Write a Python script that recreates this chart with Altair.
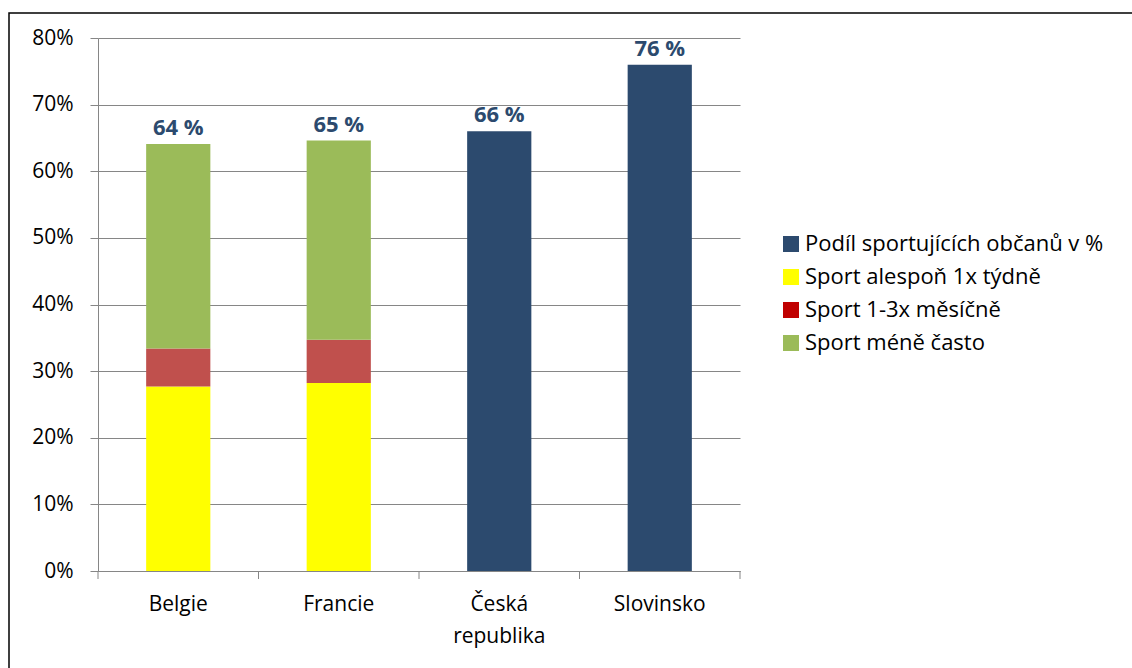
import altair as alt
import pandas as pd

countries = ["Belgie", "Francie", "Česká republika", "Slovinsko"]
series = [
    "Podíl sportujících občanů v %",
    "Sport alespoň 1x týdně",
    "Sport 1-3x měsíčně",
    "Sport méně často",
]
bar_colors = ["#2C4A6E", "#FFFF00", "#C0504D", "#9BBB59"]
legend_colors = ["#2C4A6E", "#FFFF00", "#C00000", "#9BBB59"]

# values in percent, per country (None = no segment)
podil = [None, None, 66.0, 76.0]
weekly = [27.7, 28.2, None, None]
monthly = [5.7, 6.5, None, None]
less_often = [30.7, 29.9, None, None]

y_ticks = [0, 0.1, 0.2, 0.3, 0.4, 0.5, 0.6, 0.7, 0.8]

FONT = "Open Sans"
GREY = "#868686"
W, H = 642, 533

rows = []
for i, c in enumerate(countries):
    for k, vals in enumerate([podil, weekly, monthly, less_often]):
        v = vals[i]
        if v is not None:
            rows.append({"country": c, "series": series[k], "value": v / 100.0, "order": k})
df = pd.DataFrame(rows)

tot = df.groupby("country", as_index=False)["value"].sum()
tot["label"] = tot["value"].apply(lambda v: f"{round(v * 100):.0f} %")

x_sort = countries
yscale = alt.Scale(domain=[0, 0.8], nice=False)
xscale = alt.Scale(paddingInner=0, paddingOuter=0)

x_axis = alt.Axis(
    title=None,
    ticks=False,
    domainColor=GREY,
    labelAngle=0,
    labelFont=FONT,
    labelFontSize=21,
    labelColor="black",
    labelPadding=22,
    labelLineHeight=32,
    labelLimit=300,
    labelExpr="datum.label == 'Česká republika' ? ['Česká', 'republika'] : datum.label",
)
y_axis = alt.Axis(
    title=None,
    values=y_ticks,
    format=".0%",
    tickSize=8,
    tickColor=GREY,
    domainColor=GREY,
    gridColor=GREY,
    labelFont=FONT,
    labelFontSize=21,
    labelColor="black",
    labelPadding=17,
)


def xenc(**kw):
    return alt.X("country:N", sort=x_sort, scale=xscale, axis=x_axis, **kw)


def yenc(**kw):
    return alt.Y("value:Q", scale=yscale, axis=y_axis, **kw)


bars = alt.Chart(df).mark_bar(width={"band": 0.4}).encode(
    x=xenc(),
    y=yenc(stack="zero"),
    color=alt.Color("series:N", scale=alt.Scale(domain=series, range=bar_colors), legend=None),
    order=alt.Order("order:Q"),
)

legend_layer = alt.Chart(df).mark_square(opacity=0).encode(
    x=xenc(),
    y=yenc(),
    color=alt.Color(
        "series:N",
        scale=alt.Scale(domain=series, range=legend_colors),
        legend=alt.Legend(
            title=None,
            orient="none",
            legendX=682,
            legendY=195,
            symbolType="square",
            symbolSize=256,
            symbolOpacity=1,
            symbolStrokeWidth=0,
            labelFont=FONT,
            labelFontSize=22,
            labelColor="black",
            labelOffset=3,
            labelLimit=400,
            rowPadding=11,
            padding=0,
        ),
    ),
)

labels = alt.Chart(tot).mark_text(
    font=FONT, fontSize=22, fontWeight="bold", color="#2C4A6E", baseline="alphabetic", dy=-9
).encode(
    x=xenc(),
    y=yenc(),
    text="label:N",
)

tick_df = pd.DataFrame({"country": countries})
xticks = alt.Chart(tick_df).mark_rule(color=GREY, strokeWidth=1).encode(
    x=xenc(bandPosition=0),
    y=alt.value(H),
    y2=alt.value(H + 8),
)
end_tick = alt.Chart(tick_df.head(1)).mark_rule(color=GREY, strokeWidth=1).encode(
    x=alt.value(W), y=alt.value(H), y2=alt.value(H + 8)
)

border = alt.Chart(tick_df.head(1)).mark_rect(
    fill="white", fillOpacity=0, stroke="black", strokeWidth=1.5
).encode(
    x=alt.value(9 - 98), x2=alt.value(1132 - 98 + 20), y=alt.value(13 - 38), y2=alt.value(668 - 38 + 20)
)

chart = (
    alt.layer(bars, legend_layer, labels, xticks, end_tick, border)
    .resolve_scale(color="independent")
    .properties(
        width=W,
        height=H,
        padding={"left": 98, "top": 38, "right": 1132 - 98 - W, "bottom": 668 - 38 - H},
        autosize=alt.AutoSizeParams(type="none"),
        background="white",
    )
    .configure_view(stroke=None)
)

chart.save("out.html", embed_options={"renderer": "svg", "actions": False})
